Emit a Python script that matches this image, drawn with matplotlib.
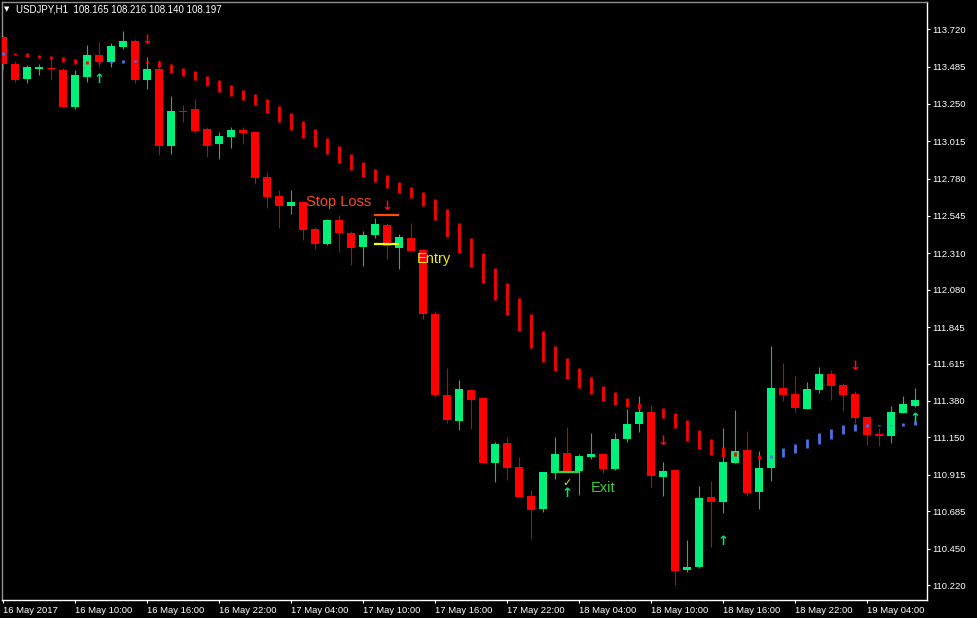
import matplotlib
matplotlib.use('Agg')
import matplotlib.pyplot as plt
import numpy as np

plt.rcParams['font.family'] = ['Liberation Sans', 'DejaVu Sans']

# USDJPY H1, one bar per hour starting 16 May 2017 04:00
opens = [113.673, 113.502, 113.405, 113.473, 113.478, 113.464, 113.229, 113.422, 113.558, 113.516,
         113.610, 113.646, 113.401, 113.470, 112.985, 113.207, 113.216, 113.092, 113.000, 113.042,
         113.083, 113.073, 112.790, 112.670, 112.609, 112.634, 112.461, 112.368, 112.517, 112.439,
         112.347, 112.423, 112.488, 112.345, 112.406, 112.330, 111.927, 111.417, 111.255, 111.449,
         111.398, 110.991, 111.115, 110.964, 110.781, 110.699, 110.928, 111.052, 110.940, 111.029,
         111.046, 110.951, 111.138, 111.233, 111.312, 110.903, 110.945, 110.315, 110.332, 110.773,
         110.742, 110.991, 111.071, 110.808, 110.955, 111.459, 111.423, 111.329, 111.449, 111.549,
         111.478, 111.422, 111.277, 111.172, 111.161, 111.306, 111.348]
highs = [113.684, 113.522, 113.495, 113.500, 113.552, 113.474, 113.464, 113.621, 113.642, 113.636,
         113.709, 113.657, 113.547, 113.527, 113.300, 113.243, 113.279, 113.102, 113.073, 113.103,
         113.103, 113.080, 112.823, 112.708, 112.708, 112.639, 112.477, 112.526, 112.551, 112.450,
         112.450, 112.530, 112.498, 112.431, 112.498, 112.336, 111.948, 111.589, 111.512, 111.455,
         111.405, 111.123, 111.155, 111.029, 110.819, 110.934, 111.155, 111.214, 111.046, 111.180,
         111.052, 111.180, 111.327, 111.411, 111.354, 110.993, 110.949, 110.504, 110.844, 110.876,
         111.210, 111.323, 111.191, 111.066, 111.726, 111.621, 111.537, 111.501, 111.592, 111.575,
         111.491, 111.442, 111.277, 111.207, 111.348, 111.411, 111.459]
lows = [113.464, 113.390, 113.384, 113.432, 113.401, 113.229, 113.216, 113.390, 113.484, 113.484,
        113.596, 113.384, 113.342, 112.928, 112.933, 113.138, 113.065, 112.918, 112.906, 112.971,
        112.998, 112.744, 112.597, 112.471, 112.559, 112.393, 112.335, 112.362, 112.320, 112.234,
        112.230, 112.404, 112.274, 112.211, 112.321, 111.894, 111.406, 111.243, 111.197, 111.203,
        110.987, 110.871, 110.882, 110.773, 110.510, 110.682, 110.886, 110.935, 110.787, 111.012,
        110.924, 110.945, 111.123, 111.186, 110.840, 110.783, 110.221, 110.305, 110.326, 110.458,
        110.676, 110.987, 110.783, 110.699, 110.878, 111.381, 111.312, 111.329, 111.428, 111.386,
        111.316, 111.239, 111.102, 111.096, 111.117, 111.302, 111.340]
closes = [113.502, 113.401, 113.481, 113.478, 113.468, 113.233, 113.432, 113.558, 113.516, 113.613,
          113.646, 113.401, 113.470, 112.985, 113.206, 113.199, 113.081, 112.988, 113.045, 113.086,
          113.070, 112.785, 112.666, 112.609, 112.632, 112.456, 112.368, 112.519, 112.439, 112.343,
          112.427, 112.494, 112.357, 112.414, 112.326, 111.927, 111.417, 111.260, 111.455, 111.384,
          110.991, 111.109, 110.959, 110.777, 110.693, 110.930, 111.046, 110.940, 111.033, 111.046,
          110.951, 111.140, 111.233, 111.310, 110.909, 110.939, 110.309, 110.332, 110.769, 110.742,
          110.995, 111.065, 110.802, 110.959, 111.459, 111.417, 111.337, 111.455, 111.549, 111.476,
          111.417, 111.274, 111.165, 111.161, 111.308, 111.360, 111.384]

# trailing stop indicator (drawn as short vertical dashes)
nan = np.nan
trail_hi = [113.574, 113.573, 113.573, 113.558, 113.552, 113.544, 113.533, 113.520, 113.516, 113.520,
            113.527, 113.527, 113.522, 113.520, 113.501, 113.479, 113.457, 113.426, 113.401, 113.367,
            113.338, 113.311, 113.280, 113.237, 113.193, 113.143, 113.092, 113.037, 112.985, 112.935,
            112.886, 112.838, 112.802, 112.760, 112.729, 112.695, 112.651, 112.588, 112.502, 112.408,
            112.309, 112.215, 112.121, 112.026, 111.927, 111.820, 111.726, 111.648, 111.585, 111.529,
            111.476, 111.434, 111.396, 111.365, nan, 111.333, 111.306, 111.260, 111.197, 111.140,
            111.091, 111.060, 111.039, 111.039, 111.039, 111.081, 111.109, 111.138, 111.176, 111.203,
            111.228, 111.234, 111.234, 111.228, 111.228, 111.241, 111.255]
trail_lo = [113.561, 113.558, 113.547, 113.541, 113.533, 113.516, 113.500, 113.500, 113.506, 113.506,
            113.510, 113.514, 113.510, 113.484, 113.447, 113.426, 113.401, 113.366, 113.328, 113.302,
            113.275, 113.245, 113.195, 113.139, 113.088, 113.037, 112.976, 112.932, 112.880, 112.834,
            112.787, 112.760, 112.723, 112.687, 112.660, 112.609, 112.516, 112.412, 112.309, 112.220,
            112.121, 112.015, 111.921, 111.822, 111.715, 111.627, 111.568, 111.518, 111.463, 111.423,
            111.381, 111.354, 111.342, 111.328, nan, 111.270, 111.211, 111.130, 111.077, 111.039,
            111.025, 111.033, 111.008, 111.014, 111.018, 111.029, 111.054, 111.082, 111.109, 111.138,
            111.171, 111.192, 111.214, 111.220, 111.220, 111.222, 111.228]
blue_bars = [0, 9, 10, 11, 64, 65, 66, 67, 68, 69, 70, 71, 72, 73, 74, 75, 76]

# signal arrows
up_bars = [8, 47, 60, 76]
up_prices = [113.407, 110.794, 110.493, 111.270]
down_bars = [12, 32, 55, 71]
down_prices = [113.648, 112.603, 111.123, 111.595]

# trade levels: (price, first bar, last bar)
stop_level = (112.551, 30.95, 33.0)
entry_level = (112.368, 30.95, 33.0)
exit_level = (110.934, 46.0, 48.1)

price_ticks = [113.720, 113.485, 113.250, 113.015, 112.780, 112.545, 112.310, 112.080,
               111.845, 111.615, 111.380, 111.150, 110.915, 110.685, 110.450, 110.220]
time_ticks = [0, 6, 12, 18, 24, 30, 36, 42, 48, 54, 60, 66, 72]
time_labels = ['16 May 2017', '16 May 10:00', '16 May 16:00', '16 May 22:00', '17 May 04:00',
               '17 May 10:00', '17 May 16:00', '17 May 22:00', '18 May 04:00', '18 May 10:00',
               '18 May 16:00', '18 May 22:00', '19 May 04:00']

BG = 'black'
BULL = '#00f07c'
BEAR = '#ff0000'

fig = plt.figure(figsize=(9.77, 6.18), dpi=100)
fig.patch.set_facecolor(BG)
ax = fig.add_axes([2 / 977, 18 / 618, 925 / 977, 598 / 618])
ax.set_facecolor(BG)

o = np.array(opens)
h = np.array(highs)
l = np.array(lows)
c = np.array(closes)
x = np.arange(len(o))
up = c >= o
body_lo = np.minimum(o, c)
body_h = np.maximum(np.abs(c - o), 0.008)

# wicks then bodies
ax.vlines(x[up], l[up], h[up], color='#17b862', lw=0.8, zorder=2)
ax.vlines(x[~up], l[~up], h[~up], color='#cc0000', lw=0.8, zorder=2)
ax.bar(x[up], body_h[up], 0.68, bottom=body_lo[up], color=BULL, lw=0, zorder=3)
ax.bar(x[~up], body_h[~up], 0.68, bottom=body_lo[~up], color=BEAR, lw=0, zorder=3)

# indicator
t_hi = np.array(trail_hi)
t_lo = np.array(trail_lo)
is_blue = np.isin(x, blue_bars)
ok = ~np.isnan(t_hi)
ax.vlines(x[ok & ~is_blue], t_lo[ok & ~is_blue], t_hi[ok & ~is_blue], color='#ff0000', lw=2.0, zorder=4)
ax.vlines(x[ok & is_blue], t_lo[ok & is_blue], t_hi[ok & is_blue], color='#4a72e6', lw=2.0, zorder=4)

# arrows
for b, p in zip(up_bars, up_prices):
    ax.text(b, p, '↑', color='#00e07a', fontsize=9.5, fontweight='bold', family='DejaVu Sans',
            ha='center', va='center', zorder=6)
for b, p in zip(down_bars, down_prices):
    ax.text(b, p, '↓', color='#ee1111', fontsize=9.5, fontweight='bold', family='DejaVu Sans',
            ha='center', va='center', zorder=6)

# trade levels and labels
ax.hlines(stop_level[0], stop_level[1], stop_level[2], color='#ff4a10', lw=1.6, zorder=5)
ax.hlines(entry_level[0], entry_level[1], entry_level[2], color='#ffff00', lw=1.6, zorder=5)
ax.hlines(exit_level[0], exit_level[1], exit_level[2], color='#3ccc3c', lw=1.6, zorder=5)
ax.text(47, 110.861, '✓', color='#e8e800', fontsize=8, fontweight='bold', family='DejaVu Sans',
        ha='center', va='center', zorder=6)
ax.text(25.25, 112.633, 'Stop Loss', color='#ff4a10', fontsize=10.5, va='center', zorder=6)
ax.text(34.5, 112.274, 'Entry', color='#f0f000', fontsize=10.5, va='center', zorder=6)
ax.text(49.0, 110.832, 'Exit', color='#3ccc3c', fontsize=10.5, va='center', zorder=6)

# axes
ax.set_xlim(-1 / 12, 77.0)
ax.set_ylim(110.126, 113.892)
ax.yaxis.tick_right()
ax.set_yticks(price_ticks)
ax.set_yticklabels(['%.3f' % p for p in price_ticks])
ax.set_xticks(time_ticks)
ax.set_xticklabels(time_labels, ha='left')
ax.tick_params(colors='white', labelsize=6.8, length=2.5, width=0.8, direction='out', pad=1.5)
for side in ['left', 'top']:
    ax.spines[side].set_color('#909090')
for side in ['right', 'bottom']:
    ax.spines[side].set_color('white')
for s in ax.spines.values():
    s.set_linewidth(1.0)

# header
fig.text(4 / 977, 1 - 9.5 / 618, '▼', fontsize=5, color='white', va='center', family='DejaVu Sans')
fig.text(16 / 977, 1 - 9.5 / 618, 'USDJPY,H1  108.165 108.216 108.140 108.197',
         fontsize=7, color='white', va='center')

fig.savefig('out.png', dpi=100, facecolor=BG)
plt.close()
